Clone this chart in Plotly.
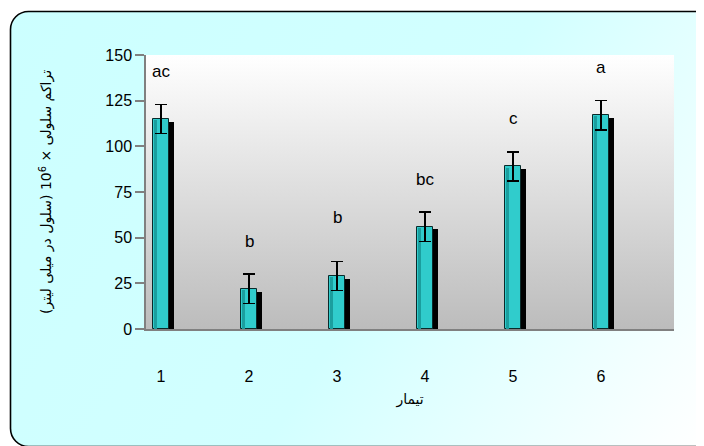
import base64
import plotly.graph_objects as go

# ---- data ----
treatments = [1, 2, 3, 4, 5, 6]
tick_labels = ["1", "2", "3", "4", "5", "6"]
cell_density = [115, 22, 29, 56, 89, 117]
error = [8, 8, 8, 8, 8, 8]
letters = ["ac", "b", "b", "bc", "c", "a"]
letter_y = [141, 48, 61, 82, 115, 143]
y_ticks = [0, 25, 50, 75, 100, 125, 150]

# page body adds an 8px offset, so the figure is 8px smaller than the window
W, H = 696, 438
ML, MR, MT, MB = 138, 30, 47, 117
PW, PH = W - ML - MR, H - MT - MB

def svg_uri(svg):
    return "data:image/svg+xml;base64," + base64.b64encode(svg.encode()).decode()

bg_svg = f'''<svg xmlns="http://www.w3.org/2000/svg" width="{W}" height="{H}" viewBox="0 0 {W} {H}" preserveAspectRatio="none">
<defs><linearGradient id="g" gradientUnits="userSpaceOnUse" x1="0" y1="0" x2="{W}" y2="{H}">
<stop offset="0" stop-color="#ccffff"/><stop offset="0.55" stop-color="#d2ffff"/><stop offset="1" stop-color="#ffffff"/>
</linearGradient></defs>
<rect x="2.5" y="3.5" width="712" height="435" rx="18" ry="18" fill="url(#g)" stroke="#000" stroke-width="1.6"/>
</svg>'''

plot_svg = '''<svg xmlns="http://www.w3.org/2000/svg" width="100" height="100" viewBox="0 0 100 100" preserveAspectRatio="none">
<defs><linearGradient id="p" x1="0" y1="0" x2="0" y2="1">
<stop offset="0" stop-color="#ffffff"/><stop offset="1" stop-color="#bcbcbc"/>
</linearGradient></defs>
<rect x="0" y="0" width="100" height="100" fill="url(#p)"/>
</svg>'''

bar_w = 0.19
shadow_shift = 0.05
shadow_drop = 1.5
strip_w = 0.035

fig = go.Figure()
# drop shadow
fig.add_trace(go.Bar(
    x=treatments, y=[v - shadow_drop for v in cell_density],
    width=bar_w, offset=-bar_w / 2 + shadow_shift,
    marker=dict(color="#000000", line=dict(width=0)),
    hoverinfo="skip", showlegend=False,
))
# main bars
fig.add_trace(go.Bar(
    x=treatments, y=cell_density,
    width=bar_w, offset=-bar_w / 2,
    marker=dict(color="#30cccc", line=dict(color="#0a2a2a", width=1)),
    showlegend=False,
))
# darker left shading of the cylinder-like bars
fig.add_trace(go.Bar(
    x=treatments, y=[v - 0.6 for v in cell_density],
    width=strip_w, offset=-bar_w / 2 + 0.012,
    marker=dict(color="#1b9e9e", line=dict(width=0)),
    hoverinfo="skip", showlegend=False,
))
# error bars on top
fig.add_trace(go.Bar(
    x=treatments, y=cell_density,
    width=bar_w, offset=-bar_w / 2,
    marker=dict(color="rgba(0,0,0,0)", line=dict(width=0)),
    error_y=dict(type="data", array=error, visible=True, color="#000000", thickness=1.5, width=6),
    hoverinfo="skip", showlegend=False,
))

for x, t, y in zip(treatments, letters, letter_y):
    fig.add_annotation(x=x, y=y, text=t, showarrow=False, xref="x", yref="y",
                       font=dict(family="Liberation Sans, Arial", size=17, color="#000"),
                       yanchor="middle", xanchor="center")

fig.add_layout_image(dict(
    source=svg_uri(bg_svg), xref="paper", yref="paper",
    x=-ML / PW, y=1 + MT / PH, sizex=W / PW, sizey=H / PH,
    sizing="stretch", xanchor="left", yanchor="top", layer="below",
))
fig.add_layout_image(dict(
    source=svg_uri(plot_svg), xref="x domain", yref="y domain",
    x=0, y=1, sizex=1, sizey=1, sizing="stretch",
    xanchor="left", yanchor="top", layer="below",
))

ytitle = "\u202b" + "تراکم سلولی × 10<sup>6</sup> (سلول در میلی لیتر)" + "\u202c"

fig.update_layout(
    width=W, height=H,
    margin=dict(l=ML, r=MR, t=MT, b=MB, autoexpand=False),
    paper_bgcolor="#ffffff", plot_bgcolor="rgba(0,0,0,0)",
    barmode="overlay", bargap=0,
    font=dict(family="Liberation Sans, Arial", color="#000"),
    xaxis=dict(
        range=[treatments[0] - 15 / 88, treatments[-1] + 73 / 88],
        tickmode="array", tickvals=treatments, ticktext=tick_labels,
        showline=True, linecolor="#808080", linewidth=1.5,
        ticks="", showgrid=False, zeroline=False,
        tickfont=dict(size=16), ticklabelstandoff=32,
        title=dict(text="تیمار", font=dict(size=14, family="DejaVu Sans, Arial"), standoff=10),
    ),
    yaxis=dict(
        range=[0, 150], tickmode="array", tickvals=y_ticks,
        showline=True, linecolor="#808080", linewidth=1.5,
        ticks="outside", ticklen=9, tickcolor="#808080", tickwidth=1.5,
        showgrid=False, zeroline=False, tickfont=dict(size=16),
        title=dict(text=ytitle, font=dict(size=14, family="DejaVu Sans, Arial"), standoff=50),
    ),
)

fig.write_html("out.html")
